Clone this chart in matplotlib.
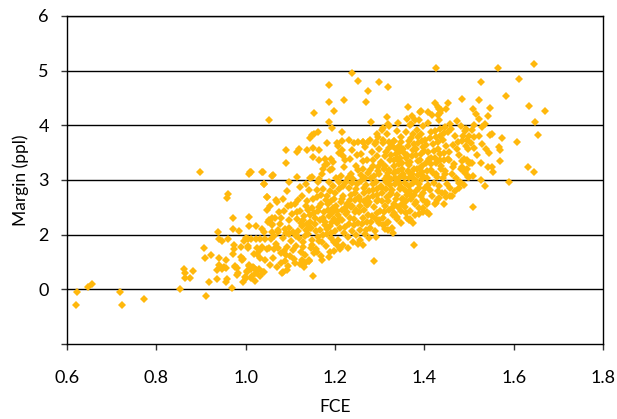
import numpy as np
import matplotlib.pyplot as plt

plt.rcParams['font.family'] = ['Lato', 'DejaVu Sans']

# (FCE, margin) pairs, grouped by region
left_tail = [(0.620, 0.71), (0.623, 0.96), (0.647, 1.04), (0.657, 1.10), (0.719, 0.96),
             (0.724, 0.71), (0.773, 0.83), (0.853, 1.00), (0.897, 3.15)]

left_cluster = [(0.862, 1.38), (0.864, 1.30), (0.865, 1.20), (0.875, 1.20), (0.881, 1.33),
                (0.911, 0.88), (0.917, 1.13), (0.907, 1.75), (0.909, 1.58), (0.923, 1.63),
                (0.937, 2.05), (0.940, 1.92), (0.947, 1.88), (0.961, 1.92), (0.940, 1.57),
                (0.940, 1.45), (0.936, 1.36), (0.935, 1.19), (0.946, 1.38), (0.951, 1.40),
                (0.955, 1.39), (0.957, 1.53), (0.955, 1.14), (0.958, 1.18), (0.961, 2.75),
                (0.959, 2.67), (0.972, 2.30), (0.971, 2.11), (0.985, 2.07), (0.973, 1.82),
                (0.973, 1.73), (0.972, 1.64), (0.975, 1.43), (0.980, 1.39), (0.980, 1.26),
                (0.970, 1.02), (0.993, 1.13), (0.999, 1.22), (1.002, 1.33), (1.008, 1.45),
                (0.990, 1.77), (0.990, 1.60), (0.992, 1.54), (0.997, 1.89), (1.000, 1.94),
                (1.008, 2.32), (1.007, 2.16), (1.005, 1.76), (1.008, 3.11), (1.013, 3.15),
                (0.983, 1.29), (0.976, 1.40)]

near_one = [(1.038, 3.14), (1.061, 3.09), (1.042, 2.92), (1.047, 2.68), (1.055, 2.53),
            (1.048, 2.45), (1.070, 2.59), (1.052, 2.27), (1.058, 2.31), (1.060, 2.20),
            (1.050, 2.24), (1.023, 2.15), (1.036, 2.10), (1.040, 2.05), (1.073, 2.09),
            (1.005, 1.92), (1.013, 1.92), (1.023, 1.92), (1.032, 1.92), (1.043, 1.92),
            (1.056, 1.92), (1.006, 1.79), (1.025, 1.75), (1.032, 1.72), (1.036, 1.77),
            (1.047, 1.74), (1.053, 1.76), (1.063, 1.73), (1.073, 1.76), (1.019, 1.65),
            (1.032, 1.57), (1.043, 1.54), (0.993, 1.56), (1.007, 1.43), (1.011, 1.37),
            (1.019, 1.39), (1.023, 1.36), (1.030, 1.38), (1.003, 1.31), (1.015, 1.25),
            (1.013, 1.20), (1.000, 1.20), (1.022, 1.15), (1.039, 1.31), (1.032, 1.25),
            (1.025, 1.65), (1.017, 1.41), (1.024, 1.29), (1.040, 1.32), (1.054, 1.45)]

low_edge = [(1.083, 1.32), (1.092, 1.35), (1.111, 1.48), (1.131, 1.46), (1.142, 1.51),
            (1.150, 1.24), (1.160, 1.69), (1.198, 1.71), (1.204, 1.81), (1.262, 1.81),
            (1.287, 1.51), (1.377, 1.81), (1.330, 2.03), (1.319, 2.09), (1.308, 2.17),
            (1.299, 2.27), (1.316, 2.21), (1.269, 2.09), (1.359, 2.40), (1.374, 2.21),
            (1.366, 2.27), (1.368, 2.28), (1.387, 2.37), (1.407, 2.42), (1.396, 2.48),
            (1.424, 2.57), (1.433, 2.67), (1.457, 2.71), (1.446, 2.77), (1.431, 2.79),
            (1.407, 2.59), (1.381, 2.60), (1.368, 2.74), (1.353, 2.65), (1.338, 2.33),
            (1.331, 2.39), (1.125, 1.54), (1.133, 1.48), (1.142, 1.52)]

core_105 = [(1.062, 1.58), (1.068, 1.83), (1.058, 2.04), (1.066, 2.31), (1.071, 1.41),
            (1.079, 1.66), (1.083, 1.94), (1.077, 2.19), (1.086, 2.44), (1.081, 1.29),
            (1.088, 1.52), (1.093, 1.77), (1.091, 2.03), (1.097, 2.27), (1.084, 2.66),
            (1.099, 1.61), (1.102, 1.88), (1.096, 2.12), (1.104, 2.37), (1.094, 1.43),
            (1.063, 1.97), (1.074, 2.41), (1.087, 2.11), (1.101, 2.55), (1.069, 2.63),
            (1.092, 2.79), (1.078, 1.49), (1.085, 1.71), (1.098, 2.01), (1.060, 2.18),
            (1.072, 2.05), (1.090, 1.62), (1.105, 1.72), (1.080, 2.30), (1.095, 2.52)]

core_110 = [(1.108, 1.56), (1.113, 1.79), (1.107, 2.04), (1.116, 2.29), (1.111, 2.57),
            (1.121, 1.47), (1.124, 1.69), (1.119, 1.93), (1.127, 2.16), (1.122, 2.43),
            (1.126, 2.71), (1.132, 1.62), (1.129, 1.86), (1.136, 2.09), (1.131, 2.34),
            (1.138, 2.61), (1.134, 2.93), (1.141, 1.54), (1.146, 1.76), (1.139, 2.01),
            (1.144, 2.23), (1.148, 2.49), (1.142, 2.81), (1.152, 1.66), (1.149, 1.91),
            (1.147, 2.13), (1.153, 2.39), (1.151, 2.66), (1.117, 2.07), (1.128, 2.27),
            (1.137, 2.19), (1.145, 2.36), (1.114, 2.41), (1.123, 2.22), (1.133, 1.97),
            (1.143, 2.12), (1.118, 2.64), (1.129, 1.78), (1.140, 2.46), (1.149, 1.82),
            (1.121, 2.88), (1.143, 3.03), (1.131, 1.41), (1.112, 1.98), (1.135, 2.52)]

core_115 = [(1.157, 1.73), (1.161, 1.96), (1.156, 2.19), (1.163, 2.43), (1.159, 2.69),
            (1.162, 2.96), (1.168, 1.61), (1.171, 1.87), (1.166, 2.09), (1.173, 2.31),
            (1.169, 2.56), (1.174, 2.83), (1.171, 3.11), (1.179, 1.79), (1.182, 2.01),
            (1.177, 2.23), (1.184, 2.46), (1.181, 2.71), (1.186, 2.97), (1.189, 1.69),
            (1.192, 1.93), (1.188, 2.16), (1.194, 2.39), (1.191, 2.61), (1.196, 2.89),
            (1.193, 3.21), (1.198, 1.86), (1.201, 2.06), (1.197, 2.29), (1.203, 2.53),
            (1.199, 2.77), (1.202, 3.04), (1.155, 2.31), (1.165, 2.51), (1.176, 2.41),
            (1.185, 2.56), (1.195, 2.49), (1.158, 2.06), (1.167, 2.26), (1.178, 2.17),
            (1.187, 2.34), (1.194, 2.24), (1.160, 2.81), (1.169, 2.73), (1.179, 2.63),
            (1.188, 2.79), (1.198, 2.66), (1.164, 1.89), (1.174, 1.99), (1.183, 2.11),
            (1.192, 2.03), (1.172, 1.54), (1.186, 1.59), (1.181, 3.29), (1.195, 3.33),
            (1.165, 3.02)]

core_120 = [(1.207, 1.91), (1.212, 2.13), (1.206, 2.36), (1.214, 2.59), (1.209, 2.83),
            (1.213, 3.07), (1.218, 1.81), (1.221, 2.03), (1.216, 2.26), (1.223, 2.49),
            (1.219, 2.71), (1.224, 2.96), (1.221, 3.23), (1.229, 1.96), (1.232, 2.19),
            (1.227, 2.41), (1.234, 2.63), (1.231, 2.86), (1.236, 3.11), (1.233, 3.39),
            (1.239, 2.06), (1.242, 2.29), (1.238, 2.53), (1.244, 2.76), (1.241, 3.01),
            (1.246, 3.26), (1.248, 1.99), (1.251, 2.21), (1.247, 2.46), (1.253, 2.69),
            (1.249, 2.93), (1.252, 3.19), (1.250, 3.46), (1.204, 2.43), (1.215, 2.66),
            (1.226, 2.56), (1.235, 2.73), (1.245, 2.63), (1.205, 2.21), (1.216, 2.46),
            (1.225, 2.37), (1.236, 2.51), (1.244, 2.41), (1.208, 2.96), (1.219, 2.89),
            (1.228, 3.03), (1.239, 2.94), (1.247, 2.84), (1.211, 2.28), (1.222, 2.14),
            (1.233, 2.31), (1.243, 2.17), (1.212, 1.73), (1.228, 1.76), (1.241, 1.87),
            (1.222, 3.37), (1.238, 3.54), (1.252, 1.83)]

core_125 = [(1.257, 2.09), (1.262, 2.31), (1.256, 2.53), (1.264, 2.76), (1.259, 2.99),
            (1.263, 3.21), (1.258, 3.47), (1.268, 2.01), (1.271, 2.23), (1.266, 2.46),
            (1.273, 2.67), (1.269, 2.91), (1.274, 3.13), (1.271, 3.36), (1.267, 3.61),
            (1.279, 2.13), (1.282, 2.34), (1.277, 2.59), (1.284, 2.81), (1.281, 3.03),
            (1.286, 3.26), (1.283, 3.51), (1.289, 2.06), (1.292, 2.29), (1.288, 2.51),
            (1.294, 2.73), (1.291, 2.96), (1.296, 3.17), (1.293, 3.43), (1.289, 3.66),
            (1.298, 2.21), (1.301, 2.43), (1.297, 2.64), (1.303, 2.89), (1.299, 3.11),
            (1.302, 3.33), (1.298, 3.56), (1.255, 2.63), (1.265, 2.86), (1.276, 2.79),
            (1.285, 2.93), (1.295, 2.84), (1.254, 2.41), (1.266, 2.61), (1.275, 2.56),
            (1.286, 2.71), (1.294, 2.61), (1.259, 3.09), (1.268, 3.03), (1.278, 3.19),
            (1.287, 3.07), (1.296, 3.23), (1.261, 2.19), (1.273, 2.36), (1.281, 2.24),
            (1.293, 2.39), (1.256, 1.91), (1.276, 1.93), (1.291, 1.96), (1.262, 3.69),
            (1.279, 3.74), (1.297, 3.79), (1.263, 3.34), (1.284, 3.36), (1.271, 2.54)]

core_130 = [(1.307, 2.31), (1.312, 2.53), (1.306, 2.76), (1.314, 2.97), (1.309, 3.21),
            (1.313, 3.43), (1.308, 3.67), (1.318, 2.23), (1.321, 2.46), (1.316, 2.69),
            (1.323, 2.91), (1.319, 3.13), (1.324, 3.36), (1.321, 3.59), (1.317, 3.84),
            (1.329, 2.36), (1.332, 2.57), (1.327, 2.81), (1.334, 3.03), (1.331, 3.26),
            (1.336, 3.47), (1.333, 3.71), (1.339, 2.29), (1.342, 2.51), (1.338, 2.73),
            (1.344, 2.94), (1.341, 3.17), (1.346, 3.41), (1.343, 3.63), (1.339, 3.89),
            (1.348, 2.43), (1.351, 2.66), (1.347, 2.87), (1.353, 3.11), (1.349, 3.31),
            (1.352, 3.56), (1.348, 3.79), (1.305, 2.86), (1.316, 3.07), (1.326, 3.01),
            (1.335, 3.14), (1.345, 3.06), (1.304, 3.31), (1.315, 3.51), (1.326, 3.46),
            (1.336, 3.57), (1.344, 3.51), (1.305, 2.61), (1.314, 2.84), (1.325, 2.77),
            (1.334, 2.93), (1.346, 2.83), (1.309, 2.41), (1.318, 2.61), (1.327, 2.49),
            (1.337, 2.66), (1.349, 2.56), (1.311, 3.26), (1.322, 3.19), (1.333, 3.36),
            (1.343, 3.29), (1.351, 3.21), (1.312, 2.11), (1.328, 2.13), (1.347, 2.21),
            (1.321, 3.99), (1.342, 4.04), (1.306, 3.91), (1.319, 2.99), (1.337, 3.01),
            (1.328, 3.63), (1.347, 3.69), (1.331, 3.12), (1.341, 2.97), (1.323, 2.72),
            (1.338, 3.39), (1.312, 3.02)]

core_135 = [(1.357, 2.51), (1.362, 2.73), (1.356, 2.94), (1.364, 3.17), (1.359, 3.41),
            (1.363, 3.63), (1.358, 3.87), (1.368, 2.43), (1.371, 2.66), (1.366, 2.89),
            (1.373, 3.11), (1.369, 3.33), (1.374, 3.54), (1.371, 3.77), (1.367, 4.01),
            (1.379, 2.56), (1.382, 2.79), (1.377, 3.01), (1.384, 3.21), (1.381, 3.46),
            (1.386, 3.67), (1.383, 3.91), (1.389, 2.49), (1.392, 2.71), (1.388, 2.93),
            (1.394, 3.14), (1.391, 3.37), (1.396, 3.61), (1.393, 3.84), (1.389, 4.09),
            (1.398, 2.63), (1.401, 2.86), (1.397, 3.07), (1.403, 3.31), (1.399, 3.53),
            (1.402, 3.74), (1.398, 3.99), (1.355, 3.06), (1.366, 3.27), (1.376, 3.21),
            (1.385, 3.34), (1.395, 3.26), (1.354, 3.49), (1.365, 3.71), (1.376, 3.66),
            (1.386, 3.79), (1.394, 3.71), (1.356, 2.81), (1.365, 3.03), (1.375, 2.94),
            (1.386, 3.09), (1.395, 3.01), (1.359, 2.61), (1.368, 2.79), (1.377, 2.73),
            (1.387, 2.86), (1.397, 2.76), (1.361, 3.46), (1.372, 3.43), (1.382, 3.56),
            (1.392, 3.47), (1.362, 2.31), (1.378, 2.36), (1.396, 2.41), (1.372, 4.17),
            (1.391, 4.24), (1.361, 4.11), (1.369, 3.13), (1.381, 2.98), (1.391, 3.22),
            (1.374, 3.85), (1.363, 3.31)]

core_140 = [(1.407, 2.56), (1.412, 2.81), (1.406, 3.04), (1.414, 3.29), (1.409, 3.51),
            (1.413, 3.77), (1.408, 4.04), (1.418, 2.71), (1.421, 2.94), (1.416, 3.19),
            (1.423, 3.41), (1.419, 3.66), (1.424, 3.89), (1.429, 2.63), (1.432, 2.89),
            (1.427, 3.11), (1.434, 3.36), (1.431, 3.57), (1.436, 3.81), (1.433, 4.09),
            (1.439, 2.77), (1.442, 3.03), (1.438, 3.26), (1.444, 3.49), (1.441, 3.73),
            (1.446, 3.97), (1.448, 2.69), (1.451, 2.93), (1.447, 3.16), (1.453, 3.39),
            (1.449, 3.63), (1.452, 3.87), (1.405, 3.16), (1.415, 3.41), (1.426, 3.31),
            (1.435, 3.47), (1.445, 3.36), (1.404, 3.64), (1.416, 3.87), (1.425, 3.79),
            (1.436, 3.94), (1.444, 3.86), (1.408, 2.91), (1.419, 3.13), (1.428, 3.06),
            (1.437, 3.21), (1.446, 3.11), (1.411, 2.37), (1.426, 2.58), (1.418, 4.19),
            (1.443, 2.56), (1.421, 3.53), (1.411, 3.39), (1.431, 3.69)]

core_145 = [(1.458, 2.86), (1.462, 3.11), (1.456, 3.37), (1.464, 3.64), (1.459, 3.93),
            (1.468, 2.79), (1.471, 3.03), (1.466, 3.29), (1.473, 3.56), (1.469, 3.81),
            (1.474, 4.08), (1.479, 2.96), (1.482, 3.21), (1.477, 3.46), (1.484, 3.71),
            (1.481, 3.98), (1.489, 2.91), (1.492, 3.13), (1.488, 3.39), (1.494, 3.63),
            (1.491, 3.89), (1.498, 3.06), (1.501, 3.31), (1.497, 3.56), (1.455, 3.51),
            (1.465, 3.23), (1.476, 3.69), (1.485, 3.34), (1.495, 3.73), (1.457, 4.03),
            (1.463, 2.71)]

right_scatter = [(1.566, 5.04), (1.645, 5.13), (1.527, 4.79), (1.612, 4.85), (1.484, 4.49),
                 (1.523, 4.47), (1.583, 4.54), (1.510, 4.29), (1.516, 4.21), (1.548, 4.32),
                 (1.542, 4.17), (1.634, 4.35), (1.670, 4.27), (1.523, 4.11), (1.536, 4.02),
                 (1.528, 3.97), (1.647, 4.07), (1.654, 3.82), (1.493, 3.93), (1.506, 3.91),
                 (1.511, 4.01), (1.487, 3.80), (1.499, 3.81), (1.511, 3.79), (1.523, 3.80),
                 (1.547, 3.82), (1.552, 3.84), (1.573, 3.76), (1.567, 3.60), (1.608, 3.69),
                 (1.530, 3.66), (1.538, 3.57), (1.545, 3.49), (1.496, 3.37), (1.502, 3.31),
                 (1.506, 3.32), (1.527, 3.32), (1.484, 3.24), (1.491, 3.15), (1.495, 3.21),
                 (1.543, 3.24), (1.552, 3.23), (1.553, 3.14), (1.570, 3.34), (1.569, 3.54),
                 (1.633, 3.24), (1.645, 3.14), (1.501, 3.06), (1.509, 3.07), (1.527, 3.00),
                 (1.535, 2.89), (1.589, 2.96), (1.510, 2.50), (1.478, 2.86), (1.478, 2.94),
                 (1.512, 3.58), (1.518, 3.45), (1.505, 3.68)]

upper_scatter = [(1.427, 5.05), (1.237, 4.95), (1.252, 4.81), (1.187, 4.73), (1.298, 4.80),
                 (1.318, 4.70), (1.273, 4.62), (1.187, 4.42), (1.220, 4.46), (1.270, 4.42),
                 (1.197, 4.26), (1.154, 4.22), (1.187, 4.07), (1.281, 4.07), (1.364, 4.34),
                 (1.393, 4.27), (1.409, 4.24), (1.379, 4.10), (1.053, 4.10), (1.317, 4.16),
                 (1.193, 3.95), (1.216, 3.88), (1.148, 3.82), (1.144, 3.77), (1.163, 3.88),
                 (1.152, 3.85), (1.424, 4.40), (1.430, 4.34), (1.433, 4.29), (1.454, 4.40),
                 (1.437, 4.28), (1.448, 4.29), (1.435, 4.22), (1.431, 4.19), (1.371, 4.02),
                 (1.319, 4.02), (1.308, 3.95), (1.293, 3.85), (1.182, 3.68)]

upper_mid = [(1.090, 3.54), (1.090, 3.32), (1.115, 3.51), (1.120, 3.56), (1.137, 3.55),
             (1.150, 3.59), (1.165, 3.55), (1.151, 3.42), (1.165, 3.37), (1.178, 3.38),
             (1.174, 3.21), (1.189, 3.18), (1.178, 3.27), (1.190, 3.38), (1.205, 3.68),
             (1.216, 3.72), (1.231, 3.73), (1.243, 3.68), (1.251, 3.70), (1.263, 3.70),
             (1.275, 3.69), (1.292, 3.70), (1.307, 3.73), (1.322, 3.70), (1.331, 3.72),
             (1.206, 3.62), (1.215, 3.55), (1.209, 3.49), (1.217, 3.43), (1.010, 3.15),
             (1.037, 3.14), (1.060, 3.08), (1.041, 2.92), (1.096, 2.96), (1.116, 3.06),
             (1.148, 3.06), (1.047, 2.68)]

groups = [left_tail, left_cluster, near_one, low_edge, core_105, core_110, core_115,
          core_120, core_125, core_130, core_135, core_140, core_145, right_scatter,
          upper_scatter, upper_mid]
points = np.array([p for g in groups for p in g])
fce, margin = points[:, 0], points[:, 1]

x_ticks = [0.6, 0.8, 1.0, 1.2, 1.4, 1.6, 1.8]
y_ticks = [0, 1, 2, 3, 4, 5, 6]
y_tick_labels = ['', '0', '2', '3', '4', '5', '6']

fig = plt.figure(figsize=(6.17, 4.19), dpi=100)
ax = fig.add_axes([67/617, 1 - 344/419, 536/617, 328/419])

for y in y_ticks[1:]:
    ax.axhline(y, color='black', lw=1, zorder=1)

ax.plot(fce, margin, 'D', color='#FFB80C', markersize=3.9, markeredgewidth=0, zorder=2)

ax.set_xlim(0.6, 1.8)
ax.set_ylim(0, 6)
ax.set_xticks(x_ticks)
ax.set_xticklabels([f'{t:.1f}' for t in x_ticks])
ax.set_yticks(y_ticks)
ax.set_yticklabels(y_tick_labels)
ax.tick_params(axis='both', labelsize=13, length=4, width=1, color='#333333')
ax.tick_params(axis='x', pad=15)
ax.tick_params(axis='y', pad=9)
for s in ax.spines.values():
    s.set_color('black')
    s.set_linewidth(1)

ax.set_xlabel('FCE', fontsize=12.5, labelpad=9)
ax.set_ylabel('Margin (ppl)', fontsize=12.5, labelpad=7)

fig.savefig('out.png', dpi=100)
